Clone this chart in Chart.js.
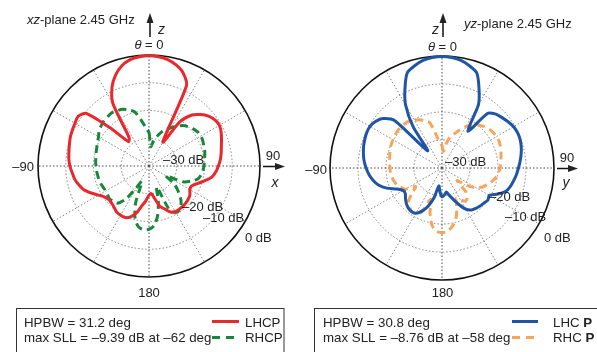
<!DOCTYPE html>
<html>
<head>
<meta charset="utf-8">
<script src="https://cdn.jsdelivr.net/npm/chart.js@4.4.1/dist/chart.umd.min.js"></script>
<style>
  html, body { margin: 0; padding: 0; background: #fff; }
  #wrap { position: relative; width: 597px; height: 352px; overflow: hidden; }
  canvas { position: absolute; top: 0; }
  #xz { left: 0; }
  #yz { left: 298px; }
</style>
</head>
<body>
<div id="wrap">
  <canvas id="xz" width="298" height="352"></canvas>
  <canvas id="yz" width="299" height="352"></canvas>
</div>
<script>
// theta in degrees, clockwise from +z (0 at top), 5 deg steps
const angles = Array.from({ length: 72 }, (_, i) => i * 5);

// xz-plane, dB
const xzLhcp = [
  -0.3, -0.5, -1.1, -2.3, -4.2, -8, -30, -20.5, -16, -13.8, -12, -11,
  -10.7, -11.3, -12.2, -13, -13.6, -14.2, -15, -15.8, -17, -19.3, -21.5, -23,
  -23, -22, -21.5, -21.2, -21, -21, -21, -21.7, -23.5, -25, -28, -30,
  -29.5, -27.5, -25.5, -22.5, -20.5, -19.5, -19.5, -19.7, -20.5, -21, -21.2, -20.5,
  -19, -17, -15, -13.8, -12.8, -12.2, -11.5, -11, -10.7, -10.3, -9.8, -9.5,
  -9.2, -8.8, -10.5, -21.5, -28.5, -27.5, -14, -8.5, -5, -2.5, -1.1, -0.5
];
const xzRhcp = [
  -28, -33, -31, -29, -27, -25.5, -24, -22.5, -21, -20, -19.2, -18.6,
  -18.4, -18.6, -19, -19.2, -19.6, -20, -20.2, -20.5, -21, -21.8, -24, -26.5,
  -33, -29, -26.5, -24, -22, -20.7, -20.7, -22.5, -32, -27, -22, -18.5,
  -17.2, -17, -17.8, -20.5, -26, -34, -31, -25.5, -22.5, -22, -21.5, -21.8,
  -22, -21.8, -21.5, -21.3, -21.2, -21, -20.9, -20.7, -20.6, -20.3, -20, -19.5,
  -19, -18, -17.5, -17, -16.8, -16.6, -17, -17.4, -18.5, -19.7, -23, -26
];

// yz-plane, dB
const yzLhcp = [
  -0.2, -0.4, -1, -2.2, -3.8, -8.7, -14, -24, -14.5, -12.8, -12, -11.2,
  -10.5, -10.2, -10.3, -10.7, -11.3, -12, -12.7, -13.3, -14, -14.7, -15.7, -18,
  -20.5, -20, -20.5, -20.8, -21.2, -21.7, -23, -25.5, -28, -29.8, -31.3, -30.3,
  -29.7, -31.5, -33.5, -29, -25.5, -23, -21.3, -21, -21.3, -22, -23, -24,
  -24, -22.3, -19, -16.5, -15, -13.8, -12.9, -12.1, -11.5, -11, -10.6, -10.3,
  -10.3, -11, -12.5, -16, -32, -22, -14, -8.7, -3.8, -2.2, -1, -0.4
];
const yzRhcp = [
  -32, -34, -31, -28.5, -27, -25, -23, -21.5, -20, -19, -18.2, -17.8,
  -17.5, -17.5, -17.8, -18.2, -18.6, -19, -19.3, -19.7, -20.5, -21.5, -22.8, -24,
  -26, -29, -33, -28, -26, -25.5, -27, -28, -24.5, -21, -18.8, -17.3,
  -16.9, -17.3, -19.3, -23.5, -28, -22.5, -21.3, -21, -22, -23, -26, -28.5,
  -24.8, -23.8, -22.8, -22.2, -21.8, -21.5, -21.4, -21.2, -21, -20.7, -20.3, -20,
  -19.8, -19.5, -19.3, -19.2, -19.3, -19.5, -20.3, -21, -22, -23.3, -28, -31
];

const ringLabels = ['–30 dB', '–20 dB', '–10 dB', '0 dB'];

const FONT = '"Liberation Sans", Arial, Helvetica, sans-serif';
const INK = '#222';

// draw a run of [text, style] pieces
function run(ctx, parts, x, y, size, align) {
  ctx.textBaseline = 'middle';
  ctx.textAlign = 'left';
  let w = 0;
  for (const [t, st] of parts) { ctx.font = `${st || ''} ${size}px ${FONT}`; w += ctx.measureText(t).width; }
  let cx = align === 'center' ? x - w / 2 : align === 'right' ? x - w : x;
  for (const [t, st] of parts) {
    ctx.font = `${st || ''} ${size}px ${FONT}`;
    ctx.fillText(t, cx, y);
    cx += ctx.measureText(t).width;
  }
}

function arrowUp(ctx, x, top, bottom) {
  ctx.beginPath(); ctx.moveTo(x, bottom); ctx.lineTo(x, top + 7); ctx.stroke();
  ctx.beginPath(); ctx.moveTo(x, top); ctx.lineTo(x - 3.5, top + 10); ctx.lineTo(x + 3.5, top + 10); ctx.closePath(); ctx.fill();
}
function arrowRight(ctx, y, left, right) {
  ctx.beginPath(); ctx.moveTo(left, y); ctx.lineTo(right - 7, y); ctx.stroke();
  ctx.beginPath(); ctx.moveTo(right, y); ctx.lineTo(right - 10, y - 3.5); ctx.lineTo(right - 10, y + 3.5); ctx.closePath(); ctx.fill();
}

function overlay(L) {
  return {
    id: 'overlay',
    afterDraw(chart) {
      const ctx = chart.ctx;
      ctx.save();
      ctx.fillStyle = INK;
      ctx.strokeStyle = '#111';
      ctx.lineWidth = 1.5;
      run(ctx, L.title, L.titleX, L.titleY, 13, 'left');
      arrowUp(ctx, L.zx, 13, 37);
      run(ctx, [['z', 'italic']], L.zLabX, 30.5, 14, L.zAlign);
      run(ctx, [['θ', 'italic'], [' = 0', '']], L.cx, L.thetaY, 13, 'center');
      arrowRight(ctx, L.xArrowY, L.xArrowL, L.xArrowR);
      run(ctx, [['90', '']], L.n90x, L.n90y, 13, 'center');
      run(ctx, [[L.axis, 'italic']], L.axisX, L.axisY, 14, 'center');
      run(ctx, [['–90', '']], L.m90x, L.m90y, 13, 'right');
      run(ctx, [['180', '']], L.cx, 293, 13, 'center');
      L.rings.forEach((p, i) => run(ctx, [[ringLabels[i], '']], p[0], p[1], 13, 'left'));

      // legend box
      ctx.lineWidth = 1;
      ctx.strokeStyle = '#333';
      ctx.strokeRect(16.5, 308.5, L.boxW, 80);
      run(ctx, [[L.hpbw, '']], L.textX, 323, 13.3, 'left');
      run(ctx, [[L.sll, '']], L.textX, 338, 13.3, 'left');
      ctx.lineWidth = 3;
      ctx.strokeStyle = L.c1;
      ctx.beginPath(); ctx.moveTo(L.swL, 321.5); ctx.lineTo(L.swR, 321.5); ctx.stroke();
      ctx.strokeStyle = L.c2;
      ctx.setLineDash([8, 6]);
      ctx.beginPath(); ctx.moveTo(L.swL, 337.5); ctx.lineTo(L.swR, 337.5); ctx.stroke();
      ctx.setLineDash([]);
      run(ctx, L.n1, L.nameX, 323, 13.3, 'left');
      run(ctx, L.n2, L.nameX, 338, 13.3, 'left');
      ctx.restore();
    }
  };
}

function polar(id, series, colors, pad, L) {
  return new Chart(document.getElementById(id), {
    type: 'radar',
    data: {
      labels: angles,
      datasets: [
        { label: 'LHCP', data: series[0], borderColor: colors[0], borderWidth: 3, fill: false,
          pointRadius: 0, tension: 0.25, borderJoinStyle: 'round' },
        { label: 'RHCP', data: series[1], borderColor: colors[1], borderWidth: 3, fill: false,
          pointRadius: 0, tension: 0.25, borderDash: [8, 5], borderJoinStyle: 'round' }
      ]
    },
    options: {
      responsive: false,
      animation: false,
      devicePixelRatio: 1,
      layout: { padding: pad },
      plugins: { legend: { display: false }, tooltip: { enabled: false } },
      scales: {
        r: {
          min: -40, max: 0,
          startAngle: 0,
          ticks: { display: false, stepSize: 10 },
          pointLabels: { display: false },
          grid: {
            circular: true,
            color: c => c.tick && c.tick.value === 0 ? '#111' : '#777',
            lineWidth: c => c.tick && c.tick.value === 0 ? 1.6 : 0.9,
            borderDash: c => c.tick && c.tick.value === 0 ? [] : [1.5, 2]
          },
          border: { dash: c => c.tick && c.tick.value === 0 ? [] : [1.5, 2] },
          angleLines: {
            color: c => c.index % 18 === 0 ? '#333' : '#777',
            lineWidth: c => c.index % 6 === 0 ? 0.9 : 0,
            borderDash: [1.5, 2]
          }
        }
      }
    },
    plugins: [overlay(L)]
  });
}

polar('xz', [xzLhcp, xzRhcp], ['#e8282c', '#17883a'],
  { left: 37.5, right: 37.5, top: 55, bottom: 74 },
  {
    title: [['xz', 'italic'], ['-plane 2.45 GHz', '']], titleX: 27, titleY: 20,
    zx: 150, zLabX: 158, zAlign: 'left', cx: 149, thetaY: 45,
    xArrowY: 166.5, xArrowL: 263, xArrowR: 285, n90x: 273, n90y: 156,
    axis: 'x', axisX: 275, axisY: 183, m90x: 34, m90y: 167,
    rings: [[163, 160], [182, 207], [203, 218.5], [245, 238.5]],
    boxW: 267.5, textX: 24,
    hpbw: 'HPBW = 31.2 deg', sll: 'max SLL = –9.39 dB at –62 deg',
    c1: '#e8282c', c2: '#17883a', swL: 212, swR: 239, nameX: 245,
    n1: [['LHCP', '']], n2: [['RHCP', '']]
  });

polar('yz', [yzLhcp, yzRhcp], ['#1f55a6', '#f6a65c'],
  { left: 32, right: 42, top: 56, bottom: 71 },
  {
    title: [['yz', 'italic'], ['-plane 2.45 GHz', '']], titleX: 166, titleY: 24,
    zx: 145, zLabX: 141, zAlign: 'right', cx: 144.5, thetaY: 47.5,
    xArrowY: 168.5, xArrowL: 259, xArrowR: 280, n90x: 269, n90y: 158,
    axis: 'y', axisX: 268, axisY: 183.5, m90x: 29, m90y: 170,
    rings: [[147, 162], [191, 197], [207, 217], [246, 238.5]],
    boxW: 300, textX: 25,
    hpbw: 'HPBW = 30.8 deg', sll: 'max SLL = –8.76 dB at –58 deg',
    c1: '#1f55a6', c2: '#f6a65c', swL: 214, swR: 240, nameX: 255,
    n1: [['LHC ', ''], ['P', 'bold']], n2: [['RHC ', ''], ['P', 'bold']]
  });
</script>
</body>
</html>
